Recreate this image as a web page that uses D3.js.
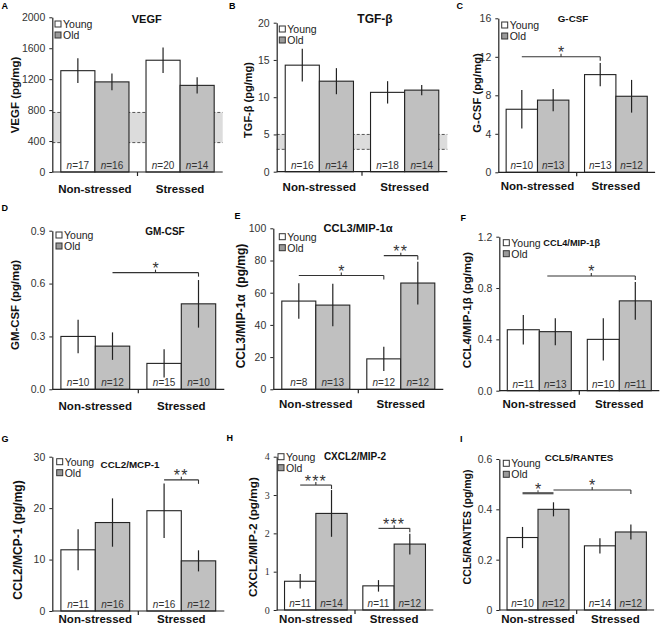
<!DOCTYPE html>
<html>
<head>
<meta charset="utf-8">
<script src="https://cdn.jsdelivr.net/npm/d3@7"></script>
<style>
  html, body { margin: 0; padding: 0; background: #fff; }
  svg { display: block; font-family: "Liberation Sans", Arial, sans-serif; }
</style>
</head>
<body>
<svg id="chart" width="661" height="630"></svg>
<script>
// ---------------- DATA ----------------
const categories = ["Non-stressed", "Stressed"];
const groups = ["Young", "Old"];
const panelLetters = ["A", "B", "C", "D", "E", "F", "G", "H", "I"];
const panelTitles = ["VEGF", "TGF-β", "G-CSF", "GM-CSF", "CCL3/MIP-1α", "CCL4/MIP-1β", "CCL2/MCP-1", "CXCL2/MIP-2", "CCL5/RANTES"];
const yAxisTitles = ["VEGF (pg/mg)", "TGF-β (pg/mg)", "G-CSF (pg/mg)", "GM-CSF (pg/mg)", "CCL3/MIP-1α  (pg/mg)", "CCL4/MIP-1β (pg/mg)", "CCL2/MCP-1 (pg/mg)", "CXCL2/MIP-2 (pg/mg)", "CCL5/RANTES (pg/mg)"];

// values per panel: [Non-stressed, Stressed]
const youngMeans  = [[1310, 1445], [14.3, 10.65], [6.55, 10.15], [0.300, 0.147], [54.8, 18.9], [0.475, 0.400], [11.9, 19.5], [0.75, 0.63], [0.288, 0.255]];
const youngErrors = [[160, 165],   [2.2, 1.5],    [2.0, 1.2],    [0.095, 0.080], [11.0, 7.5],  [0.115, 0.165], [4.0, 5.3],   [0.19, 0.15], [0.042, 0.030]];
const oldMeans    = [[1165, 1120], [12.15, 10.95],[7.5, 7.9],    [0.245, 0.485], [52.3, 66.0], [0.460, 0.700], [17.2, 9.75],  [2.52, 1.72], [0.400, 0.310]];
const oldErrors   = [[108, 105],   [1.75, 0.7],   [1.15, 1.7],   [0.078, 0.135], [13.2, 13.3], [0.105, 0.147], [4.7, 2.05],  [0.61, 0.27], [0.028, 0.030]];
const youngN = [[17, 20], [16, 18], [10, 13], [10, 15], [8, 12], [11, 10], [11, 16], [11, 11], [10, 14]];
const oldN   = [[16, 14], [14, 14], [13, 12], [12, 10], [13, 12], [13, 11], [16, 12], [14, 12], [12, 12]];

const yMax = [2000, 20, 16, 0.9, 100, 1.2, 30, 4, 0.6];
const yTickValues = [
  [0, 400, 800, 1200, 1600, 2000], [0, 5, 10, 15, 20], [0, 4, 8, 12, 16],
  [0, 0.3, 0.6, 0.9], [0, 20, 40, 60, 80, 100], [0, 0.4, 0.8, 1.2],
  [0, 10, 20, 30], [0, 1, 2, 3, 4], [0, 0.2, 0.4, 0.6]
];
const yTickLabels = [
  ["0", "400", "800", "1200", "1600", "2000"], ["0", "5", "10", "15", "20"], ["0", "4", "8", "12", "16"],
  ["0.0", "0.3", "0.6", "0.9"], ["0", "20", "40", "60", "80", "100"], ["0.0", "0.4", "0.8", "1.2"],
  ["0", "10", "20", "30"], ["0", "1", "2", "3", "4"], ["0", "0.2", "0.4", "0.6"]
];
// reference (normal) range bands
const refRanges = [[380, 770], [3, 5], null, null, null, null, null, null, null];
// significance brackets: slot 0 = NS Young, 1 = NS Old, 2 = S Young, 3 = S Old
const significance = [
  [], [],
  [{ from: 0, to: 2, y: 12.0, label: "*" }],
  [{ from: 1, to: 3, y: 0.662, label: "*" }],
  [{ from: 0, to: 2, y: 70.7, label: "*" }, { from: 2, to: 3, y: 83.0, label: "**" }],
  [{ from: 0.75, to: 3, y: 0.894, label: "*" }],
  [{ from: 2, to: 3, y: 25.5, label: "**" }],
  [{ from: 0, to: 1, y: 3.26, label: "***" }, { from: 2, to: 3, y: 2.13, label: "***" }],
  [{ from: 0, to: 1, y: 0.464, label: "*", heavy: true }, { from: 1, to: 3, y: 0.477, label: "*" }]
];

// ---------------- LAYOUT ----------------
const layout = [
  { x0: 52.3, xDiv: 137.5, top: 17.3, bottom: 172, lx: 1.5, ly: 9, tx: 146.7, ty: 23, ts: 11, gx: 55, gy: 24, yx: 15, yy: 95, ys: 11.5, cy: 193 },
  { x0: 276.7, xDiv: 362, top: 22.7, bottom: 171.7, lx: 229, ly: 9.3, tx: 375, ty: 23, ts: 12, gx: 279.3, gy: 29, yx: 248, yy: 100, ys: 11, cy: 191 },
  { x0: 498.3, xDiv: 576.7, top: 18.3, bottom: 172.3, lx: 456.5, ly: 9.3, tx: 573, ty: 22, ts: 9.8, gx: 501.7, gy: 25, yx: 477, yy: 93, ys: 11.3, cy: 190 },
  { x0: 52.3, xDiv: 138.3, top: 230.7, bottom: 389.3, lx: 1.5, ly: 211, tx: 165, ty: 235, ts: 10, gx: 56, gy: 235, yx: 15, yy: 305, ys: 11.4, cy: 410 },
  { x0: 273.3, xDiv: 358.3, top: 228.3, bottom: 389.3, lx: 234.5, ly: 219, tx: 358, ty: 231.7, ts: 11.2, gx: 279.3, gy: 236.7, yx: 241, yy: 306, ys: 12, cy: 408 },
  { x0: 499.3, xDiv: 579.3, top: 236.7, bottom: 390.7, lx: 460.5, ly: 220.7, tx: 571.7, ty: 246, ts: 9.2, gx: 503.3, gy: 242.7, yx: 467, yy: 310, ys: 11.5, cy: 408 },
  { x0: 52.3, xDiv: 138.3, top: 456.7, bottom: 611, lx: 1.5, ly: 442, tx: 130, ty: 468, ts: 9.8, gx: 56.7, gy: 461.7, yx: 18, yy: 540, ys: 12, cy: 623 },
  { x0: 276.7, xDiv: 355, top: 456.7, bottom: 610, lx: 226.5, ly: 440.7, tx: 355, ty: 460, ts: 10, gx: 278, gy: 456.7, yx: 253, yy: 537, ys: 11.8, cy: 623, serifTicks: true },
  { x0: 499.3, xDiv: 576.7, top: 459, bottom: 610, lx: 460, ly: 442.3, tx: 579, ty: 460.7, ts: 9.8, gx: 503.3, gy: 463.3, yx: 467, yy: 527, ys: 10.5, cy: 623 }
];

const FILL = { Young: "#ffffff", Old: "#c0c0c0" };
const LEGEND_FILL = { Young: "#ffffff", Old: "#9a9a9a" };
const INK = "#222";

const svg = d3.select("#chart");

panelTitles.forEach((title, p) => {
  const L = layout[p];
  const x1 = L.x0 + 2 * (L.xDiv - L.x0);
  const g = svg.append("g");

  const y = d3.scaleLinear().domain([0, yMax[p]]).range([L.bottom, L.top]);
  const x = d3.scaleBand().domain(categories).range([L.x0, x1]).padding(0);
  const xs = d3.scaleBand().domain(groups).range([0, x.bandwidth()]).paddingInner(0).paddingOuter(0.25);

  const rows = [];
  categories.forEach((c, ci) => {
    rows.push({ cat: c, grp: "Young", mean: youngMeans[p][ci], err: youngErrors[p][ci], n: youngN[p][ci] });
    rows.push({ cat: c, grp: "Old", mean: oldMeans[p][ci], err: oldErrors[p][ci], n: oldN[p][ci] });
  });
  const cx = d => x(d.cat) + xs(d.grp) + xs.bandwidth() / 2;
  const slotX = s => {
    const i = Math.floor(s), f = s - i;
    const a = cx(rows[Math.min(i, 3)]);
    if (f === 0 || i >= 3) return a;
    return a + f * (cx(rows[i + 1]) - a);
  };

  // reference band
  const ref = refRanges[p];
  if (ref) {
    g.append("rect")
      .attr("x", L.x0).attr("width", x1 - L.x0)
      .attr("y", y(ref[1])).attr("height", y(ref[0]) - y(ref[1]))
      .attr("fill", "#dcdcdc");
    ref.forEach(v => {
      g.append("line")
        .attr("x1", L.x0).attr("x2", x1).attr("y1", y(v)).attr("y2", y(v))
        .attr("stroke", "#555").attr("stroke-width", 1).attr("stroke-dasharray", "3,2");
    });
  }

  // bars
  g.selectAll("rect.bar").data(rows).join("rect")
    .attr("class", "bar")
    .attr("x", d => x(d.cat) + xs(d.grp))
    .attr("width", xs.bandwidth())
    .attr("y", d => y(d.mean))
    .attr("height", d => y(0) - y(d.mean))
    .attr("fill", d => FILL[d.grp])
    .attr("stroke", INK).attr("stroke-width", 1.1);

  // error bars
  g.selectAll("line.err").data(rows).join("line")
    .attr("class", "err")
    .attr("x1", cx).attr("x2", cx)
    .attr("y1", d => y(d.mean + d.err)).attr("y2", d => y(d.mean - d.err))
    .attr("stroke", INK).attr("stroke-width", 1.2);

  // n labels
  const nt = g.selectAll("text.n").data(rows).join("text")
    .attr("class", "n")
    .attr("x", cx).attr("y", L.bottom - 3)
    .attr("text-anchor", "middle")
    .attr("font-size", 10).attr("fill", "#333");
  nt.append("tspan").attr("font-style", "italic").text("n");
  nt.append("tspan").text(d => "=" + d.n);

  // y axis
  const yAxis = d3.axisLeft(y)
    .tickValues(yTickValues[p])
    .tickFormat((d, i) => yTickLabels[p][i])
    .tickSizeInner(3).tickSizeOuter(0).tickPadding(4);
  const ya = g.append("g").attr("transform", `translate(${L.x0},0)`).call(yAxis);
  ya.select(".domain").attr("stroke", INK).attr("stroke-width", 1.2);
  ya.selectAll(".tick line").attr("stroke", INK);
  ya.selectAll(".tick text")
    .attr("fill", "#333")
    .attr("font-size", L.serifTicks ? 10 : 10.5)
    .attr("font-family", L.serifTicks ? "'Liberation Serif', serif" : "'Liberation Sans', Arial, sans-serif");

  // x axis (line plus tick at category boundary)
  g.append("line")
    .attr("x1", L.x0).attr("x2", x1).attr("y1", y(0)).attr("y2", y(0))
    .attr("stroke", INK).attr("stroke-width", 1.2);
  g.append("line")
    .attr("x1", x(categories[1])).attr("x2", x(categories[1]))
    .attr("y1", y(0)).attr("y2", y(0) + 4)
    .attr("stroke", INK).attr("stroke-width", 1.2);

  // category labels
  g.selectAll("text.cat").data(categories).join("text")
    .attr("class", "cat")
    .attr("x", c => x(c) + x.bandwidth() / 2)
    .attr("y", L.cy)
    .attr("text-anchor", "middle")
    .attr("font-size", 11.5).attr("font-weight", "bold").attr("fill", "#111")
    .text(c => c);

  // y title
  g.append("text")
    .attr("transform", `translate(${L.yx},${L.yy}) rotate(-90)`)
    .attr("text-anchor", "middle").attr("dominant-baseline", "central")
    .attr("font-size", L.ys).attr("font-weight", "bold").attr("fill", "#111")
    .attr("xml:space", "preserve")
    .text(yAxisTitles[p]);

  // panel title
  g.append("text")
    .attr("x", L.tx).attr("y", L.ty)
    .attr("text-anchor", "middle")
    .attr("font-size", L.ts).attr("font-weight", "bold").attr("fill", "#111")
    .text(title);

  // panel letter
  g.append("text")
    .attr("x", L.lx).attr("y", L.ly)
    .attr("font-size", 9).attr("font-weight", "bold").attr("fill", "#000")
    .text(panelLetters[p]);

  // legend
  groups.forEach((grp, i) => {
    const yy = L.gy + i * 11;
    g.append("rect")
      .attr("x", L.gx).attr("y", yy - 3).attr("width", 6).attr("height", 6)
      .attr("fill", LEGEND_FILL[grp]).attr("stroke", "#333").attr("stroke-width", 1);
    g.append("text")
      .attr("x", L.gx + 8).attr("y", yy)
      .attr("dominant-baseline", "central")
      .attr("font-size", 10.5).attr("fill", "#222")
      .text(grp);
  });

  // significance brackets
  significance[p].forEach(s => {
    const xa = slotX(s.from), xb = slotX(s.to), yl = y(s.y), xm = (xa + xb) / 2;
    const sw = s.heavy ? 2.2 : 1.1;
    const col = s.heavy ? "#555" : "#333";
    g.append("line").attr("x1", xa).attr("x2", xb).attr("y1", yl).attr("y2", yl)
      .attr("stroke", col).attr("stroke-width", sw);
    if (!s.heavy) {
      g.append("line").attr("x1", xb).attr("x2", xb).attr("y1", yl).attr("y2", yl + 4)
        .attr("stroke", col).attr("stroke-width", sw);
    }
    g.append("line").attr("x1", xm).attr("x2", xm).attr("y1", yl).attr("y2", yl - 3)
      .attr("stroke", col).attr("stroke-width", 1.1);
    g.append("text")
      .attr("x", xm).attr("y", yl + 1.5)
      .attr("text-anchor", "middle")
      .attr("font-size", 16).attr("fill", "#333")
      .attr("letter-spacing", s.label.length > 1 ? 1.2 : 0)
      .text(s.label);
  });
});
</script>
</body>
</html>
